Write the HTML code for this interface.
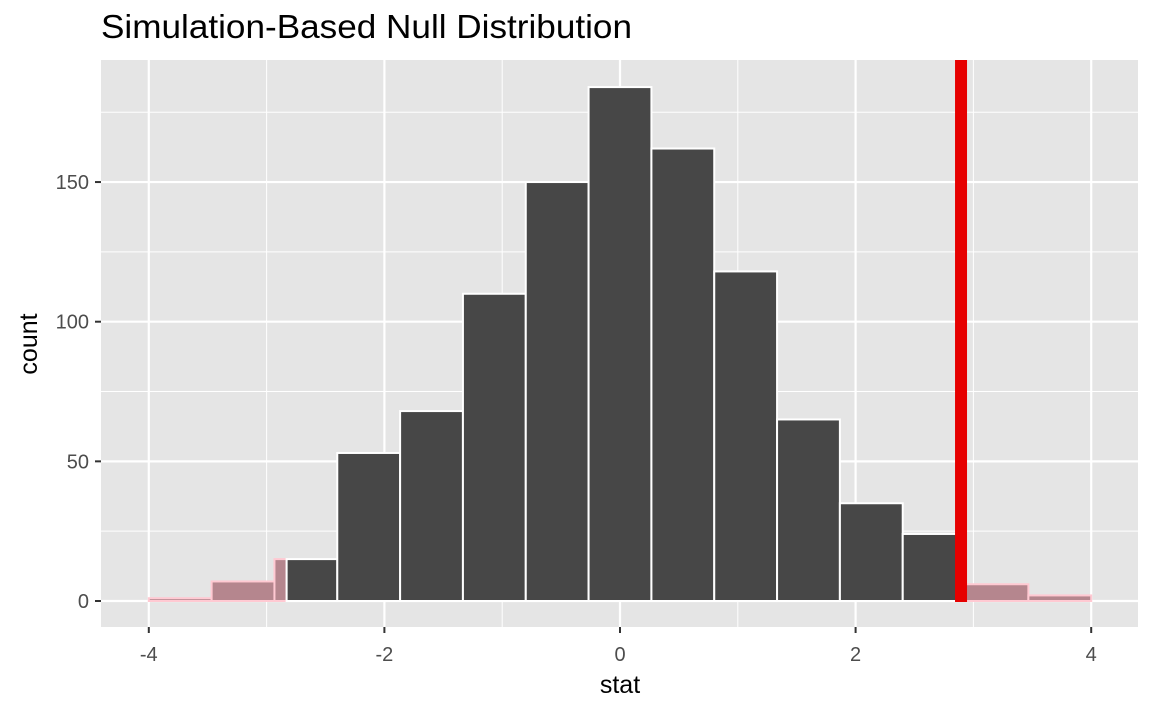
<!DOCTYPE html>
<html><head><meta charset="utf-8"><style>
html,body{margin:0;padding:0;background:#fff;}
svg{display:block;font-family:"Liberation Sans",Arial,sans-serif;}
</style></head><body>
<svg id="chart" width="1152" height="711" xmlns="http://www.w3.org/2000/svg">
<text x="101" y="38" font-size="33" textLength="531" lengthAdjust="spacingAndGlyphs" fill="#000">Simulation-Based Null Distribution</text>
<rect x="101" y="60" width="1037" height="567" fill="#E5E5E5"/>
<g id="grid"></g><g id="bars"></g><g id="axes"></g>
<text x="620" y="693" font-size="25" text-anchor="middle" fill="#000">stat</text>
<text transform="translate(37,344) rotate(-90)" font-size="25" text-anchor="middle" fill="#000">count</text>
</svg>
<script>
const binStart = -4;
const binWidth = 8/15;
const counts = [1, 7, 15, 53, 68, 110, 150, 184, 162, 118, 65, 35, 24, 6, 2];
const xTicks = [-4, -2, 0, 2, 4];
const yTicks = [0, 50, 100, 150];
const observedStat = 2.895;
const shadeLow = -2.83;
const NS = "http://www.w3.org/2000/svg";
const X = v => 620 + v*117.8;
const Y = v => 601 - v*2.793;
function mk(tag, attrs, parent){const e=document.createElementNS(NS,tag);for(const k in attrs)e.setAttribute(k,attrs[k]);parent.appendChild(e);return e;}
const grid=document.getElementById('grid'), bars=document.getElementById('bars'), axes=document.getElementById('axes');
for(let i=0;i<xTicks.length-1;i++){const m=(xTicks[i]+xTicks[i+1])/2;const l=mk('line',{x1:X(m),x2:X(m),y1:60,y2:627,stroke:'#fff','stroke-width':1},grid);

}
for(let i=0;i<yTicks.length;i++){const m=yTicks[i]+25;const l=mk('line',{x1:101,x2:1138,y1:Y(m),y2:Y(m),stroke:'#fff','stroke-width':1},grid);

}
xTicks.forEach(t=>{const l=mk('line',{x1:X(t),x2:X(t),y1:60,y2:627,stroke:'#fff','stroke-width':2.2},grid);


const k=mk('line',{x1:X(t),x2:X(t),y1:627,y2:633,stroke:'#333','stroke-width':2},axes);


const tx=mk('text',{x:X(t),y:661,'font-size':20,'text-anchor':'middle',fill:'#4D4D4D'},axes);tx.textContent=t;

});
yTicks.forEach(t=>{const l=mk('line',{x1:101,x2:1138,y1:Y(t),y2:Y(t),stroke:'#fff','stroke-width':2.2},grid);


const k=mk('line',{x1:95,x2:101,y1:Y(t),y2:Y(t),stroke:'#333','stroke-width':2},axes);


const tx=mk('text',{x:89,y:Y(t)+7,'font-size':20,'text-anchor':'end',fill:'#4D4D4D'},axes);tx.textContent=t;

});
counts.forEach((c,i)=>{
  const a=binStart+i*binWidth, b=a+binWidth;
  const segs=[];
  const cuts=[a,b,shadeLow,observedStat].filter(v=>v>=a&&v<=b).sort((p,q)=>p-q);
  const uniq=[...new Set(cuts)];
  for(let j=0;j<uniq.length-1;j++){const m=(uniq[j]+uniq[j+1])/2;segs.push([uniq[j],uniq[j+1],m<shadeLow||m>observedStat]);}
  segs.forEach(s=>{
    const r=mk('rect',{x:X(s[0]),y:Y(c),width:X(s[1])-X(s[0]),height:Y(0)-Y(c),
      fill:s[2]?'#B5868E':'#474747',stroke:s[2]?'#FFC9D2':'#fff','stroke-width':2},bars);
    
    
  });
});
const ol=mk('rect',{x:X(observedStat)-6,y:60,width:12,height:Y(0)-60+1,fill:'#E60000'},bars);


</script>
</body></html>
